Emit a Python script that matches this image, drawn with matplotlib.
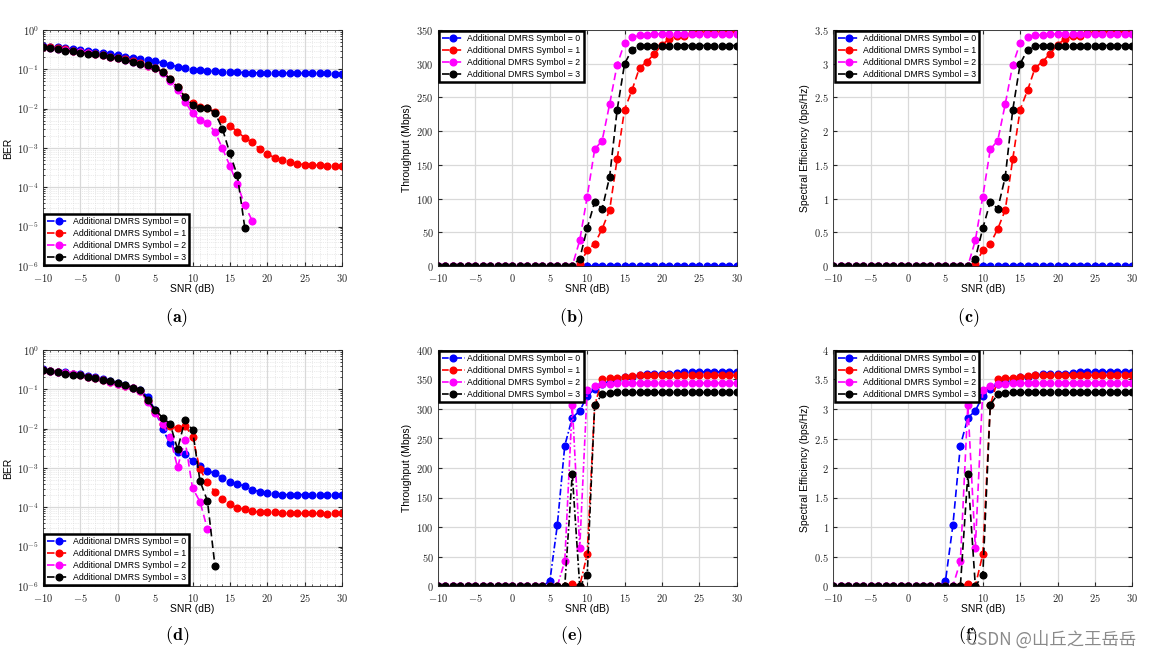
import numpy as np
import matplotlib
matplotlib.use("Agg")
import matplotlib.pyplot as plt
from matplotlib.ticker import FuncFormatter, MultipleLocator, LogLocator

plt.rcParams["mathtext.fontset"] = "cm"
plt.rcParams["font.family"] = ["Liberation Sans", "DejaVu Sans"]

snr = list(range(-10, 31))
labels = ["Additional DMRS Symbol = 0", "Additional DMRS Symbol = 1",
          "Additional DMRS Symbol = 2", "Additional DMRS Symbol = 3"]
colors = ["#0000ff", "#ff0000", "#ff00ff", "#000000"]

# ---- (a) BER, top row ----
ber_a0 = [0.40, 0.38, 0.36, 0.34, 0.33, 0.31, 0.29, 0.275, 0.26, 0.245, 0.23, 0.21, 0.195, 0.18,
          0.17, 0.16, 0.145, 0.13, 0.117, 0.106, 0.099, 0.094, 0.091, 0.089, 0.087, 0.085, 0.084,
          0.083, 0.082, 0.081, 0.081, 0.080, 0.080, 0.080, 0.080, 0.079, 0.079, 0.079, 0.079,
          0.078, 0.078]
ber_a1 = [0.38, 0.36, 0.34, 0.32, 0.30, 0.28, 0.26, 0.25, 0.235, 0.21, 0.195, 0.18, 0.16, 0.145,
          0.125, 0.11, 0.085, 0.057, 0.035, 0.02, 0.0137, 0.0112, 0.0105, 0.0083, 0.0055, 0.0037,
          0.0026, 0.0018, 0.0014, 0.00093, 0.0007, 0.00057, 0.0005, 0.00045, 0.00039, 0.00038,
          0.00037, 0.00036, 0.00035, 0.00034, 0.00034]
ber_a2 = [0.38, 0.355, 0.33, 0.31, 0.29, 0.27, 0.255, 0.24, 0.225, 0.205, 0.19, 0.175, 0.155,
          0.14, 0.125, 0.108, 0.083, 0.052, 0.029, 0.015, 0.0077, 0.0051, 0.0044, 0.0026,
          0.00098, 0.00035, 0.00012, 0.000035, 0.000014]
ber_a3 = [0.37, 0.35, 0.33, 0.30, 0.285, 0.265, 0.25, 0.24, 0.225, 0.205, 0.19, 0.175, 0.155,
          0.14, 0.13, 0.11, 0.085, 0.057, 0.035, 0.02, 0.0124, 0.0101, 0.0102, 0.0079, 0.0031,
          0.00073, 0.0002, 0.0000093]

# ---- (b) throughput (Mbps), top row ----
thr_b0 = [0, 0, 0, 0, 0, 0, 0, 0, 0, 0, 0, 0, 0, 0, 0, 0, 0, 0, 0, 0, 0, 0, 0, 0, 0, 0, 0, 0,
          0, 0, 0, 0, 0, 0, 0, 0, 0, 0, 0, 0, 0]
thr_b1 = [0, 0, 0, 0, 0, 0, 0, 0, 0, 0, 0, 0, 0, 0, 0, 0, 0, 0, 0, 3, 23, 33, 55, 83, 158, 232,
          261, 294, 303, 315, 328, 337, 341, 341, 345, 347, 347, 347, 347, 347, 347]
thr_b2 = [0, 0, 0, 0, 0, 0, 0, 0, 0, 0, 0, 0, 0, 0, 0, 0, 0, 0, 0, 38, 103, 173, 186, 240, 298,
          331, 339, 342, 343, 344, 344, 344, 344, 344, 344, 344, 344, 344, 344, 344, 344]
thr_b3 = [0, 0, 0, 0, 0, 0, 0, 0, 0, 0, 0, 0, 0, 0, 0, 0, 0, 0, 0, 11, 56, 95, 85, 132, 231, 300,
          321, 327, 327, 327, 327, 327, 327, 327, 327, 327, 327, 327, 327, 327, 327]

# ---- (c) spectral efficiency (bps/Hz), top row ----
se_c0 = [0, 0, 0, 0, 0, 0, 0, 0, 0, 0, 0, 0, 0, 0, 0, 0, 0, 0, 0, 0, 0, 0, 0, 0, 0, 0, 0, 0,
         0, 0, 0, 0, 0, 0, 0, 0, 0, 0, 0, 0, 0]
se_c1 = [0, 0, 0, 0, 0, 0, 0, 0, 0, 0, 0, 0, 0, 0, 0, 0, 0, 0, 0, 0.03, 0.23, 0.33, 0.55, 0.83,
         1.58, 2.32, 2.61, 2.94, 3.03, 3.15, 3.28, 3.37, 3.41, 3.41, 3.45, 3.47, 3.47, 3.47,
         3.47, 3.47, 3.47]
se_c2 = [0, 0, 0, 0, 0, 0, 0, 0, 0, 0, 0, 0, 0, 0, 0, 0, 0, 0, 0, 0.38, 1.03, 1.73, 1.86, 2.40,
         2.98, 3.31, 3.39, 3.42, 3.43, 3.44, 3.44, 3.44, 3.44, 3.44, 3.44, 3.44, 3.44, 3.44,
         3.44, 3.44, 3.44]
se_c3 = [0, 0, 0, 0, 0, 0, 0, 0, 0, 0, 0, 0, 0, 0, 0, 0, 0, 0, 0, 0.11, 0.56, 0.95, 0.85, 1.32,
         2.31, 3.00, 3.21, 3.27, 3.27, 3.27, 3.27, 3.27, 3.27, 3.27, 3.27, 3.27, 3.27, 3.27,
         3.27, 3.27, 3.27]

# ---- (d) BER, bottom row ----
ber_d0 = [0.32, 0.30, 0.28, 0.27, 0.25, 0.24, 0.22, 0.20, 0.18, 0.16, 0.145, 0.13, 0.11, 0.096,
          0.065, 0.029, 0.0098, 0.0042, 0.0025, 0.0023, 0.0015, 0.0011, 0.00085, 0.00073,
          0.00055, 0.00043, 0.00039, 0.00035, 0.00028, 0.00025, 0.00023, 0.00022, 0.00021,
          0.00021, 0.00021, 0.00021, 0.00021, 0.00021, 0.0002, 0.0002, 0.0002]
ber_d1 = [0.31, 0.29, 0.275, 0.26, 0.245, 0.235, 0.21, 0.195, 0.175, 0.155, 0.14, 0.125, 0.11,
          0.093, 0.05, 0.027, 0.013, 0.0115, 0.0102, 0.012, 0.0063, 0.00093, 0.00043, 0.00025,
          0.00016, 0.00012, 0.000095, 0.00009, 0.00008, 0.000075, 0.000075, 0.000074, 0.00007,
          0.00007, 0.00007, 0.00007, 0.00007, 0.00007, 0.000067, 0.00007, 0.00007]
ber_d2 = [0.31, 0.29, 0.275, 0.26, 0.24, 0.23, 0.21, 0.19, 0.17, 0.155, 0.14, 0.125, 0.11,
          0.092, 0.048, 0.025, 0.013, 0.006, 0.00104, 0.0051, 0.00031, 0.00014, 0.000028]
ber_d3 = [0.31, 0.29, 0.275, 0.25, 0.235, 0.235, 0.21, 0.19, 0.175, 0.16, 0.145, 0.13, 0.11,
          0.095, 0.055, 0.03, 0.019, 0.0133, 0.003, 0.0166, 0.0093, 0.00047, 0.000145,
          0.0000033]

# ---- (e) throughput (Mbps), bottom row ----
thr_e0 = [0, 0, 0, 0, 0, 0, 0, 0, 0, 0, 0, 0, 0, 0, 0, 8, 103, 238, 285, 297, 322, 334, 343,
          346, 349, 354, 355, 357, 359, 360, 360, 360, 361, 362, 363, 363, 363, 363, 363, 363, 363]
thr_e1 = [0, 0, 0, 0, 0, 0, 0, 0, 0, 0, 0, 0, 0, 0, 0, 0, 0, 0, 4, 0, 54, 306, 350, 352, 353,
          355, 356, 357, 357, 357, 357, 357, 357, 357, 357, 357, 357, 357, 357, 357, 357]
thr_e2 = [0, 0, 0, 0, 0, 0, 0, 0, 0, 0, 0, 0, 0, 0, 0, 0, 0, 42, 307, 65, 333, 339, 342, 343,
          344, 344, 344, 344, 344, 344, 344, 344, 344, 344, 344, 344, 344, 344, 344, 344, 344]
thr_e3 = [0, 0, 0, 0, 0, 0, 0, 0, 0, 0, 0, 0, 0, 0, 0, 0, 0, 0, 190, 0, 18, 307, 325, 327, 328,
          328, 328, 328, 328, 328, 328, 328, 328, 328, 328, 328, 328, 328, 328, 328, 328]

# ---- (f) spectral efficiency (bps/Hz), bottom row ----
se_f0 = [0, 0, 0, 0, 0, 0, 0, 0, 0, 0, 0, 0, 0, 0, 0, 0.08, 1.03, 2.38, 2.85, 2.97, 3.22, 3.34,
         3.43, 3.46, 3.49, 3.54, 3.55, 3.57, 3.59, 3.60, 3.60, 3.60, 3.61, 3.62, 3.63, 3.63,
         3.63, 3.63, 3.63, 3.63, 3.63]
se_f1 = [0, 0, 0, 0, 0, 0, 0, 0, 0, 0, 0, 0, 0, 0, 0, 0, 0, 0, 0.04, 0, 0.54, 3.06, 3.50, 3.52,
         3.53, 3.55, 3.56, 3.57, 3.57, 3.57, 3.57, 3.57, 3.57, 3.57, 3.57, 3.57, 3.57, 3.57,
         3.57, 3.57, 3.57]
se_f2 = [0, 0, 0, 0, 0, 0, 0, 0, 0, 0, 0, 0, 0, 0, 0, 0, 0, 0.42, 3.07, 0.65, 3.33, 3.39, 3.42,
         3.43, 3.44, 3.44, 3.44, 3.44, 3.44, 3.44, 3.44, 3.44, 3.44, 3.44, 3.44, 3.44, 3.44,
         3.44, 3.44, 3.44, 3.44]
se_f3 = [0, 0, 0, 0, 0, 0, 0, 0, 0, 0, 0, 0, 0, 0, 0, 0, 0, 0, 1.90, 0, 0.18, 3.07, 3.25, 3.27,
         3.28, 3.28, 3.28, 3.28, 3.28, 3.28, 3.28, 3.28, 3.28, 3.28, 3.28, 3.28, 3.28, 3.28,
         3.28, 3.28, 3.28]

fig = plt.figure(figsize=(11.74, 6.6), dpi=100)
W, H = 1174.0, 660.0


def make_ax(x0, y_top):
    # pixel box -> figure fraction
    return fig.add_axes([x0 / W, 1 - (y_top + 236) / H, 299 / W, 236 / H])


lin_fmt = FuncFormatter(lambda v, p: r"$%g$" % round(v, 2))
log_fmt = FuncFormatter(lambda v, p: r"$10^{%d}$" % round(np.log10(v)))


def style(ax, ylabel, log=False, ymax=None, ystep=None, loc="upper left"):
    ax.set_xlim(-10, 30)
    ax.xaxis.set_major_locator(MultipleLocator(5))
    ax.xaxis.set_major_formatter(lin_fmt)
    if log:
        ax.set_yscale("log")
        ax.set_ylim(1e-6, 1)
        ax.yaxis.set_major_locator(LogLocator(base=10, numticks=10))
        ax.yaxis.set_minor_locator(LogLocator(base=10, subs=np.arange(2, 10), numticks=10))
        ax.yaxis.set_major_formatter(log_fmt)
        ax.xaxis.set_minor_locator(MultipleLocator(1))
        ax.grid(True, which="minor", color="#d8d8d8", lw=0.5, ls=":")
    else:
        ax.set_ylim(0, ymax)
        ax.yaxis.set_major_locator(MultipleLocator(ystep))
        ax.yaxis.set_major_formatter(lin_fmt)
    ax.grid(True, which="major", color="#d9d9d9", lw=0.9)
    ax.set_axisbelow(True)
    ax.tick_params(which="both", direction="in", top=True, right=True, labelsize=7.5,
                   colors="#262626")
    ax.tick_params(axis="x", pad=4)
    ax.tick_params(axis="y", pad=3)
    ax.tick_params(which="major", length=3)
    ax.tick_params(which="minor", length=1.5)
    for s in ax.spines.values():
        s.set_color("#262626")
        s.set_linewidth(0.6)
    ax.set_xlabel("SNR (dB)", fontsize=7.5, labelpad=0)
    ax.set_ylabel(ylabel, fontsize=7.5, labelpad=3)
    leg = ax.legend(loc=loc, fontsize=6.3, frameon=True, fancybox=False, framealpha=1,
                    borderaxespad=0.15, labelspacing=0.32, handlelength=2.6,
                    handletextpad=0.3, borderpad=0.35, numpoints=1)
    leg.get_frame().set_edgecolor("black")
    leg.get_frame().set_linewidth(1.8)


def draw(ax, series, ls):
    for ys, c, lab in zip(series, colors, labels):
        ax.plot(snr[:len(ys)], ys, ls=ls, color=c, lw=1.2, marker="o", ms=4.8,
                mec=c, mfc=c, label=lab)


dash = (0, (4.5, 2.5))
dashdot = (0, (4, 1.5, 1, 1.5))

ax = make_ax(43, 30)
draw(ax, [ber_a0, ber_a1, ber_a2, ber_a3], dash)
style(ax, "BER", log=True, loc="lower left")

ax = make_ax(437.7, 30)
draw(ax, [thr_b0, thr_b1, thr_b2, thr_b3], dash)
style(ax, "Throughput (Mbps)", ymax=350, ystep=50)

ax = make_ax(833.3, 30)
draw(ax, [se_c0, se_c1, se_c2, se_c3], dash)
style(ax, "Spectral Efficiency (bps/Hz)", ymax=3.5, ystep=0.5)

ax = make_ax(43, 350)
draw(ax, [ber_d0, ber_d1, ber_d2, ber_d3], dash)
style(ax, "BER", log=True, loc="lower left")

ax = make_ax(437.7, 350)
draw(ax, [thr_e0, thr_e1, thr_e2, thr_e3], dashdot)
style(ax, "Throughput (Mbps)", ymax=400, ystep=50)

ax = make_ax(833.3, 350)
draw(ax, [se_f0, se_f1, se_f2, se_f3], dash)
style(ax, "Spectral Efficiency (bps/Hz)", ymax=4, ystep=0.5)

# panel letters
for lx, ly, t in [(177, 318, "a"), (571, 318, "b"), (968, 318, "c"),
                  (177, 636, "d"), (571, 636, "e"), (968, 636, "f")]:
    fig.text(lx / W, 1 - ly / H, r"$(\mathbf{%s})$" % t, fontsize=13, ha="center", va="center")

# watermark (sits on top of the (f) label, as in the source image)
fig.text(966 / W, 1 - 640 / H, "CSDN @山丘之王岳岳", fontsize=12.5, color="#8a8a8a",
         ha="left", va="center", family=["Noto Sans CJK SC", "DejaVu Sans"])

fig.savefig("out.png", dpi=100)
